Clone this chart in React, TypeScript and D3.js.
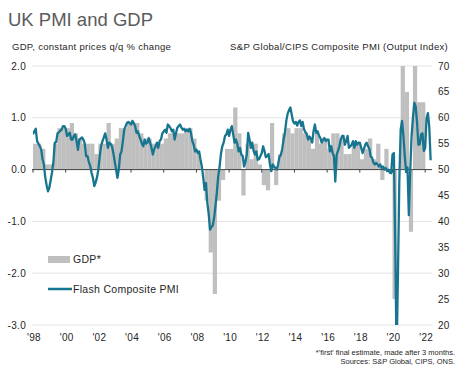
import React from "react";
import * as d3 from "d3";

// GDP, constant prices q/q % change ("first" final estimate), quarterly from 1998 Q1
const gdpStartYear = 1998;
const gdpQoQ: (number | null)[] = [
  0.5, 0.5, 0.4, 0.1, // 1998
  0.1, 0.5, 0.8, 0.8, // 1999
  0.8, 0.9, 0.7, 0.6, // 2000
  0.5, 0.5, 0.5, 0.3, // 2001
  0.5, 0.5, 0.9, 0.5, // 2002
  0.6, 0.8, 0.8, 0.9, // 2003
  0.9, 0.9, 0.7, 0.6, // 2004
  0.6, 0.5, 0.5, 0.5, // 2005
  0.6, 0.7, 0.7, 0.7, // 2006
  0.7, 0.8, 0.8, 0.6, // 2007
  0.3, 0.0, -0.6, -1.6, // 2008
  -2.4, -0.6, -0.2, 0.4, // 2009
  0.4, 1.2, 0.7, -0.5, // 2010
  0.5, 0.2, 0.5, 0.1, // 2011
  -0.3, -0.4, 0.9, -0.3, // 2012
  0.3, 0.7, 0.8, 0.7, // 2013
  0.8, 0.8, 0.7, 0.6, // 2014
  0.4, 0.7, 0.5, 0.6, // 2015
  0.4, 0.7, 0.7, 0.6, // 2016
  0.3, 0.3, 0.5, 0.5, // 2017
  0.2, 0.4, 0.6, 0.2, // 2018
  0.5, -0.2, 0.4, 0.0, // 2019
  -2.5, null, 15.5, 1.5, // 2020
  -1.2, 4.8, 1.3, 1.3, // 2021
];

// Flash Composite PMI, monthly from Jan 1998
const pmiStartYear = 1998;
const pmiComposite: number[] = [
  56.8, 57.4, 57.9, 55.5, 55.0, 54.5, 53.9, 52.0, 51.0, 48.5, 47.0, 45.8, // 1998
  46.5, 48.0, 49.5, 51.5, 55.2, 55.3, 57.0, 57.2, 57.5, 57.7, 58.4, 58.4, // 1999
  57.9, 56.5, 56.8, 57.1, 55.8, 55.8, 56.5, 56.8, 55.5, 53.8, 55.8, 56.0, // 2000
  56.2, 55.8, 55.0, 52.6, 52.6, 51.5, 50.7, 49.4, 48.4, 46.8, 47.5, 48.5, // 2001
  50.0, 52.6, 54.5, 55.5, 56.2, 57.0, 55.8, 54.2, 55.2, 55.0, 54.5, 53.2, // 2002
  51.6, 50.0, 48.4, 50.0, 52.9, 53.5, 55.5, 57.7, 58.4, 59.0, 59.2, 59.0, // 2003
  58.7, 59.4, 59.0, 58.4, 57.1, 57.4, 56.5, 55.8, 55.0, 54.5, 55.8, 55.0, // 2004
  55.2, 56.1, 55.2, 54.2, 52.9, 53.9, 54.5, 55.2, 54.2, 55.5, 55.8, 57.0, // 2005
  57.4, 57.7, 57.1, 58.7, 58.4, 58.0, 57.4, 57.7, 55.8, 57.0, 58.1, 58.4, // 2006
  58.7, 58.1, 57.7, 57.9, 57.4, 57.7, 57.4, 57.9, 57.1, 55.5, 54.8, 53.5, // 2007
  53.9, 53.2, 53.5, 51.9, 50.6, 48.5, 46.1, 47.4, 43.6, 41.5, 38.4, 38.9, // 2008
  39.2, 40.7, 43.0, 45.5, 48.7, 50.5, 53.0, 54.5, 55.2, 56.5, 56.8, 57.7, // 2009
  56.5, 57.7, 58.4, 56.8, 55.2, 55.8, 55.0, 53.5, 54.2, 52.9, 52.6, 50.6, // 2010
  51.5, 52.9, 57.1, 55.8, 54.2, 55.2, 53.6, 52.9, 53.5, 51.9, 52.0, 52.6, // 2011
  53.2, 54.5, 53.6, 52.4, 52.6, 53.0, 51.0, 49.7, 51.0, 50.6, 50.3, 50.0, // 2012
  51.0, 52.5, 52.8, 54.0, 55.8, 57.1, 59.4, 60.8, 61.5, 62.0, 60.6, 59.3, // 2013
  58.9, 59.2, 58.5, 59.2, 59.5, 58.4, 59.2, 57.8, 57.2, 56.9, 55.8, 56.4, // 2014
  56.0, 55.2, 57.4, 58.7, 57.1, 57.4, 56.6, 56.1, 55.2, 55.8, 56.1, 55.5, // 2015
  55.8, 55.8, 53.5, 54.5, 53.2, 52.6, 47.7, 52.9, 53.6, 54.5, 55.8, 56.5, // 2016
  56.5, 54.8, 55.5, 56.5, 54.2, 54.5, 54.8, 55.5, 54.2, 55.5, 54.8, 55.2, // 2017
  55.2, 54.2, 53.2, 54.0, 54.8, 55.2, 54.5, 54.0, 52.5, 52.3, 51.3, 51.0, // 2018
  51.3, 51.0, 50.6, 51.0, 50.3, 50.6, 50.0, 50.3, 49.7, 50.0, 49.4, 49.3, // 2019
  52.9, 53.2, 36.0, 13.8, 30.0, 47.7, 57.7, 59.4, 56.5, 52.6, 49.5, 50.4, // 2020
  41.2, 49.6, 56.4, 60.0, 62.9, 62.2, 59.2, 54.8, 54.9, 56.8, 57.0, 53.6, // 2021
  54.2, 59.9, 60.9, 58.2, 51.8, // 2022
];

const xTickYears = [1998, 2000, 2002, 2004, 2006, 2008, 2010, 2012, 2014, 2016, 2018, 2020, 2022];
const gdpTicks = [2, 1, 0, -1, -2, -3];
const pmiTicks = [70, 65, 60, 55, 50, 45, 40, 35, 30, 25, 20];

const FONT = "'Liberation Sans', Arial, Helvetica, sans-serif";
const BAR = "#bfbfbf";
const LINE = "#17758f";

export default function App() {
  const W = 468;
  const H = 375;
  const left = 33;
  const right = 432;
  const top = 66;
  const bottom = 325;

  const x = d3.scaleLinear().domain([1998, 2022 + 5 / 12]).range([left, right]);
  const yL = d3.scaleLinear().domain([-3, 2]).range([bottom, top]);
  const yR = d3.scaleLinear().domain([20, 70]).range([bottom, top]);

  const line = d3
    .line<number>()
    .x((_, i) => x(pmiStartYear + i / 12))
    .y((d) => yR(d))
    .curve(d3.curveLinear);

  const clampG = (v: number) => Math.max(-3, Math.min(2, v));

  return (
    <svg
      width={W}
      height={H}
      viewBox={`0 0 ${W} ${H}`}
      style={{ position: "absolute", left: 0, top: 0, background: "#fff", fontFamily: FONT }}
    >
      <defs>
        <clipPath id="plotClip">
          <rect x={left} y={top} width={right - left} height={bottom - top} />
        </clipPath>
      </defs>

      {/* Title */}
      <text x={8} y={26} fontSize={18.5} fill="#5b5b5b">
        UK PMI and GDP
      </text>
      <text x={12} y={50} fontSize={9.5} fill="#262626" style={{ letterSpacing: "0.3px" }}>
        GDP, constant prices q/q % change
      </text>
      <text x={448} y={50} fontSize={9.5} fill="#262626" textAnchor="end" style={{ letterSpacing: "0.3px" }}>
        S&amp;P Global/CIPS Composite PMI (Output Index)
      </text>

      {/* gridlines */}
      {gdpTicks
        .filter((t) => t !== 0)
        .map((t) => (
          <line key={"g" + t} x1={left - 1} x2={right} y1={yL(t)} y2={yL(t)} stroke="#e3e3e3" strokeWidth={1} />
        ))}

      {/* GDP bars */}
      <g clipPath="url(#plotClip)">
        {gdpQoQ.map((v, i) => {
          if (v === null) return null;
          const x0 = x(gdpStartYear + i / 4);
          const x1 = x(gdpStartYear + (i + 1) / 4);
          const yv = yL(clampG(v));
          const y0 = yL(0);
          return (
            <rect
              key={"b" + i}
              x={x0}
              width={x1 - x0 + 0.15}
              y={Math.min(yv, y0)}
              height={Math.abs(y0 - yv)}
              fill={BAR}
            />
          );
        })}
      </g>

      {/* zero axis and ticks */}
      <line x1={left - 1} x2={right} y1={yL(0)} y2={yL(0)} stroke="#404040" strokeWidth={1} />
      {xTickYears.map((yr) => (
        <line key={"t" + yr} x1={x(yr)} x2={x(yr)} y1={yL(0)} y2={yL(0) + 3} stroke="#404040" strokeWidth={1} />
      ))}

      {/* PMI line */}
      <g clipPath="url(#plotClip)">
        <path d={line(pmiComposite) || ""} fill="none" stroke={LINE} strokeWidth={2.3} strokeLinejoin="round" />
      </g>

      {/* left axis labels */}
      {gdpTicks.map((t) => (
        <text key={"l" + t} x={26} y={yL(t) + 3.5} fontSize={10} fill="#262626" textAnchor="end" style={{ letterSpacing: "0.3px" }}>
          {d3.format(".1f")(t).replace("−", "-")}
        </text>
      ))}

      {/* right axis labels */}
      {pmiTicks.map((t) => (
        <text key={"r" + t} x={438} y={yR(t) + 3.5} fontSize={10} fill="#262626" style={{ letterSpacing: "0.3px" }}>
          {t}
        </text>
      ))}

      {/* x axis labels */}
      {xTickYears.map((yr) => (
        <text key={"x" + yr} x={x(yr) + 1} y={341} fontSize={10} fill="#262626" textAnchor="middle" style={{ letterSpacing: "0.3px" }}>
          {"'" + String(yr).slice(2)}
        </text>
      ))}

      {/* legend */}
      <rect x={48} y={256} width={22} height={7} fill={BAR} />
      <text x={73} y={263} fontSize={10.5} fill="#262626" style={{ letterSpacing: "0.3px" }}>
        GDP*
      </text>
      <line x1={48} x2={72} y1={289} y2={289} stroke={LINE} strokeWidth={2.5} />
      <text x={73} y={293} fontSize={10.5} fill="#262626" style={{ letterSpacing: "0.3px" }}>
        Flash Composite PMI
      </text>

      {/* footnotes */}
      <text x={455} y={355} fontSize={7.5} fill="#262626" textAnchor="end">
        *'first' final estimate, made after 3 months.
      </text>
      <text x={455} y={364} fontSize={7.5} fill="#262626" textAnchor="end">
        Sources: S&amp;P Global, CIPS, ONS.
      </text>
    </svg>
  );
}
